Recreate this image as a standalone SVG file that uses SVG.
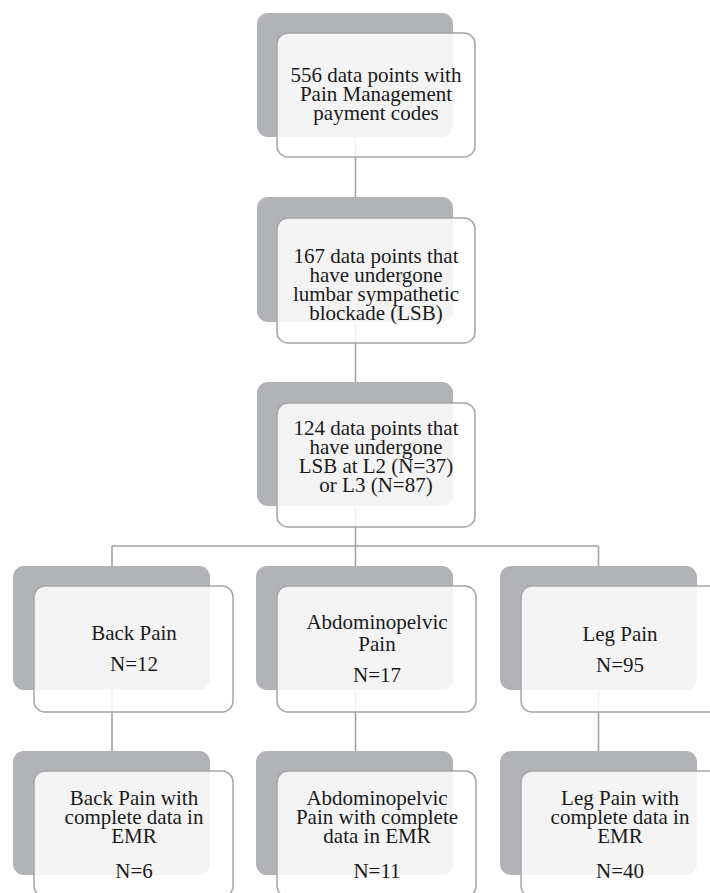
<svg xmlns="http://www.w3.org/2000/svg" width="710" height="893" viewBox="0 0 710 893">
<defs>
<style>
.bk{fill:#b2b3b7;}
.fr{fill:#ffffff;fill-opacity:0.86;stroke:#a6a6a6;stroke-width:1.5;}
.ln{stroke:#a3a3a3;stroke-width:1.6;fill:none;}
.t{font-family:'Liberation Serif','Times New Roman',serif;font-size:21px;fill:#1a1a1a;text-anchor:middle;}
</style>
</defs>
<rect width="710" height="893" fill="#ffffff"/>
<g id="connectors">
<path class="ln" d="M355.5,137 V197"/>
<path class="ln" d="M355.5,322 V382"/>
<path class="ln" d="M355.5,506 V546 M112,546 H598.5 M112,546 V566 M355.5,546 V566 M598.5,546 V566"/>
<path class="ln" d="M112,690 V751 M355.5,690 V751 M598.5,690 V751"/>
</g>
<g id="n1">
<rect class="bk" x="257" y="13" width="196" height="124" rx="11"/>
<rect class="fr" x="277" y="33" width="198" height="124" rx="11"/>
<text class="t"><tspan x="376" y="82">556 data points with</tspan><tspan x="376" y="101">Pain Management</tspan><tspan x="376" y="120">payment codes</tspan></text>
</g>
<g id="n2">
<rect class="bk" x="257" y="197" width="196" height="125" rx="11"/>
<rect class="fr" x="277" y="218" width="198" height="125" rx="11"/>
<text class="t"><tspan x="376" y="263">167 data points that</tspan><tspan x="376" y="282">have undergone</tspan><tspan x="376" y="301">lumbar sympathetic</tspan><tspan x="376" y="320">blockade (LSB)</tspan></text>
</g>
<g id="n3">
<rect class="bk" x="257" y="382" width="196" height="124" rx="11"/>
<rect class="fr" x="277" y="403" width="198" height="124" rx="11"/>
<text class="t"><tspan x="376" y="435">124 data points that</tspan><tspan x="376" y="454">have undergone</tspan><tspan x="376" y="473">LSB at L2 (N=37)</tspan><tspan x="376" y="492">or L3 (N=87)</tspan></text>
</g>
<g id="n4">
<rect class="bk" x="13" y="566" width="197" height="124" rx="11"/>
<rect class="fr" x="34" y="586" width="199" height="126" rx="11"/>
<text class="t"><tspan x="134" y="640">Back Pain</tspan><tspan x="134" y="671">N=12</tspan></text>
</g>
<g id="n5">
<rect class="bk" x="256" y="566" width="197" height="124" rx="11"/>
<rect class="fr" x="277" y="586" width="199" height="126" rx="11"/>
<text class="t"><tspan x="377" y="629">Abdominopelvic</tspan><tspan x="377" y="651">Pain</tspan><tspan x="377" y="682">N=17</tspan></text>
</g>
<g id="n6">
<rect class="bk" x="500" y="566" width="197" height="124" rx="11"/>
<rect class="fr" x="521" y="586" width="199" height="126" rx="11"/>
<text class="t"><tspan x="620" y="641">Leg Pain</tspan><tspan x="620" y="672">N=95</tspan></text>
</g>
<g id="n7">
<rect class="bk" x="13" y="751" width="197" height="124" rx="11"/>
<rect class="fr" x="34" y="771" width="199" height="126" rx="11"/>
<text class="t"><tspan x="134" y="805">Back Pain with</tspan><tspan x="134" y="824">complete data in</tspan><tspan x="134" y="843">EMR</tspan><tspan x="134" y="878">N=6</tspan></text>
</g>
<g id="n8">
<rect class="bk" x="256" y="751" width="197" height="124" rx="11"/>
<rect class="fr" x="277" y="771" width="199" height="126" rx="11"/>
<text class="t"><tspan x="377" y="805">Abdominopelvic</tspan><tspan x="377" y="824">Pain with complete</tspan><tspan x="377" y="843">data in EMR</tspan><tspan x="377" y="878">N=11</tspan></text>
</g>
<g id="n9">
<rect class="bk" x="500" y="751" width="197" height="124" rx="11"/>
<rect class="fr" x="521" y="771" width="199" height="126" rx="11"/>
<text class="t"><tspan x="620" y="805">Leg Pain with</tspan><tspan x="620" y="824">complete data in</tspan><tspan x="620" y="843">EMR</tspan><tspan x="620" y="878">N=40</tspan></text>
</g>
</svg>
